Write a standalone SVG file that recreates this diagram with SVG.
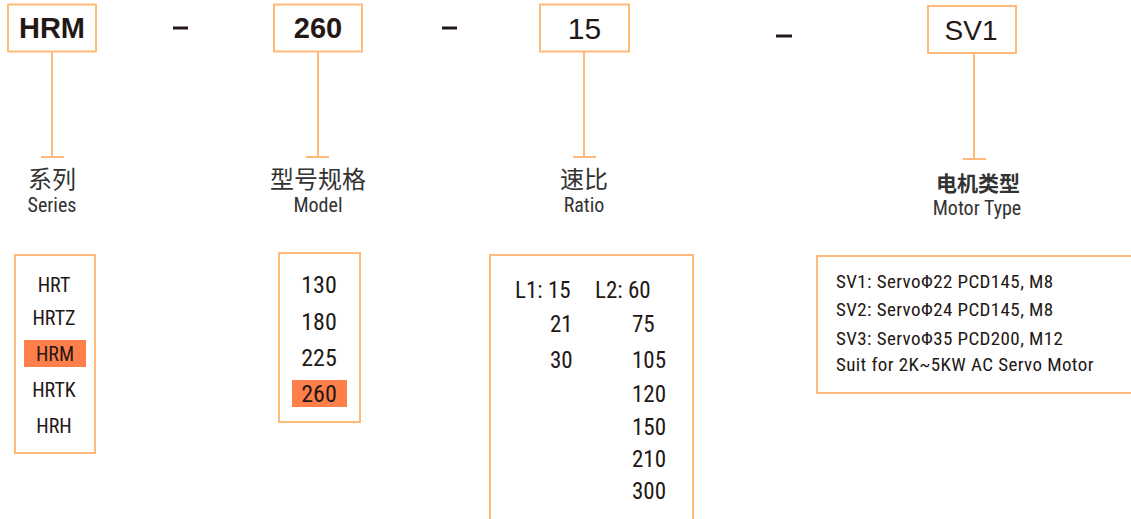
<svg xmlns="http://www.w3.org/2000/svg" width="1131" height="519" viewBox="0 0 1131 519">
<style>
.box{fill:#fff;stroke:#FFBA7A;stroke-width:2}
.ln{stroke:#FFBA7A;stroke-width:2;fill:none}
.hl{fill:#FF7F4A}
.dash{stroke:#231815;stroke-width:3}
.code{font-family:"Liberation Sans",Arial,sans-serif;font-size:29px;fill:#231815;text-anchor:middle}
.cn{font-family:"Noto Sans CJK SC",sans-serif;font-size:24px;fill:#333;text-anchor:middle}
.en{font-family:"Roboto Condensed","Liberation Sans Narrow","Liberation Sans",sans-serif;font-size:20px;fill:#333;text-anchor:middle}
.it{font-family:"Roboto Condensed","Liberation Sans Narrow","Liberation Sans",sans-serif;fill:#231815}
</style>
<g id="connectors">
<line class="dash" x1="173" y1="28" x2="188" y2="28"/>
<line class="dash" x1="442" y1="28" x2="457" y2="28"/>
<line class="dash" x1="776" y1="36" x2="792" y2="36"/>
<line class="ln" x1="52" y1="51" x2="52" y2="157"/>
<line class="ln" x1="41" y1="157" x2="64" y2="157"/>
<line class="ln" x1="318" y1="51" x2="318" y2="157"/>
<line class="ln" x1="306" y1="157" x2="329" y2="157"/>
<line class="ln" x1="584" y1="51" x2="584" y2="157"/>
<line class="ln" x1="573" y1="157" x2="596" y2="157"/>
<line class="ln" x1="974" y1="53" x2="974" y2="159"/>
<line class="ln" x1="963" y1="159" x2="986" y2="159"/>
</g>
<g id="node-hrm">
<rect class="box" x="8" y="4.5" width="88" height="47"/>
<text class="code" x="52" y="38" font-weight="bold">HRM</text>
</g>
<g id="node-260">
<rect class="box" x="274" y="4.5" width="88" height="47"/>
<text class="code" x="318" y="38" font-weight="bold">260</text>
</g>
<g id="node-15">
<rect class="box" x="540" y="4.5" width="89" height="47"/>
<text class="code" x="584.5" y="39" style="font-size:30px">15</text>
</g>
<g id="node-sv1">
<rect class="box" x="928" y="6" width="88" height="47"/>
<text class="code" x="971" y="40" style="font-size:28px">SV1</text>
</g>
<g id="label-series">
<text class="cn" x="52" y="188">系列</text>
<text class="en" x="52" y="212">Series</text>
</g>
<g id="label-model">
<text class="cn" x="318" y="188">型号规格</text>
<text class="en" x="318" y="212">Model</text>
</g>
<g id="label-ratio">
<text class="cn" x="584" y="188">速比</text>
<text class="en" x="584" y="212">Ratio</text>
</g>
<g id="label-motor">
<text class="cn" x="978" y="191" style="font-size:21px;font-weight:bold">电机类型</text>
<text class="en" x="977" y="215">Motor Type</text>
</g>
<g id="list-series">
<rect class="box" x="15" y="255" width="80" height="198"/>
<rect class="hl" x="24" y="340" width="62" height="27"/>
<g class="it" font-size="20" text-anchor="middle">
<text x="54" y="292">HRT</text>
<text x="54" y="325">HRTZ</text>
<text x="55" y="361">HRM</text>
<text x="54" y="397">HRTK</text>
<text x="54" y="433">HRH</text>
</g>
</g>
<g id="list-model">
<rect class="box" x="279" y="253" width="81" height="169"/>
<rect class="hl" x="292" y="380" width="55" height="27"/>
<g class="it" font-size="24" text-anchor="middle">
<text x="319" y="293">130</text>
<text x="319" y="330">180</text>
<text x="319" y="366">225</text>
<text x="319" y="402">260</text>
</g>
</g>
<g id="list-ratio">
<path class="ln" d="M490 519 V255 H693 V519"/>
<g class="it" font-size="23">
<text x="515" y="298">L1: 15</text>
<text x="595" y="298">L2: 60</text>
<text x="550" y="332">21</text>
<text x="550" y="368">30</text>
<text x="632" y="332">75</text>
<text x="632" y="368">105</text>
<text x="632" y="402">120</text>
<text x="632" y="435">150</text>
<text x="632" y="467">210</text>
<text x="632" y="499">300</text>
</g>
</g>
<g id="list-motor">
<path class="ln" d="M1132 256 H817 V393 H1132"/>
<g class="it" font-size="19" letter-spacing="0.4">
<text x="836" y="288">SV1: ServoΦ22 PCD145, M8</text>
<text x="836" y="316">SV2: ServoΦ24 PCD145, M8</text>
<text x="836" y="345">SV3: ServoΦ35 PCD200, M12</text>
<text x="836" y="371">Suit for 2K~5KW AC Servo Motor</text>
</g>
</g>
</svg>
